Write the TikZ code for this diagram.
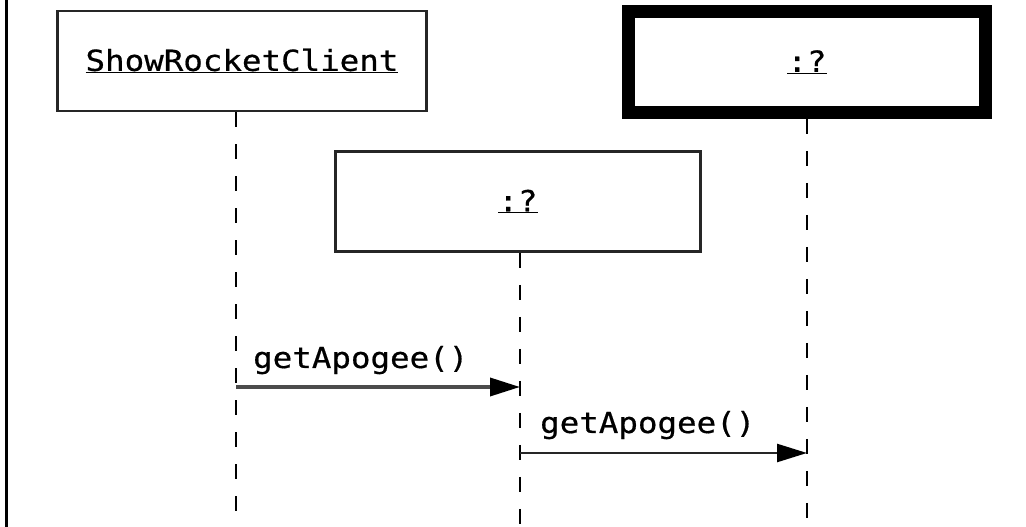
\documentclass[tikz,border=0pt]{standalone}
\usepackage{fontspec}
\usetikzlibrary{arrows.meta}
\newfontfamily\umlfont{DejaVu Sans Mono}[FakeStretch=1.12, FakeBold=0.6]

\begin{document}
\begin{tikzpicture}[x=1pt, y=1pt, >={Triangle[length=30pt,width=18pt,color=black]},
	object/.style={draw=black!85, line width=2.5pt, fill=white, inner sep=0pt,
		minimum width=369pt, minimum height=100pt,
		font=\umlfont\fontsize{29}{34}\selectfont},
	lifeline/.style={draw=black, line width=2pt, dash pattern=on 15pt off 17pt},
	message/.style={->, line width=3.5pt, draw=black!70},
	msglabel/.style={anchor=base west, inner sep=0pt,
		font=\umlfont\fontsize{29}{34}\selectfont}]
	% -------- Tunables --------
	\def\yA{140}   % height of first call
	\def\yB{74}    % height of second call
	
	\useasboundingbox (0,0) rectangle (1026,527);
	
	% frame edge on the left
	\draw[line width=3pt] (6,0) -- (6,527);
	
	% -------- Objects --------
	\node[object] (client) at (242,466) {\underline{ShowRocketClient}};
	\node[object, draw=black, line width=13pt, minimum width=357pt, minimum height=101pt]
		(rocket) at (807,465) {\underline{:?}};
	\node[object, line width=3pt, minimum width=365pt] (proxy) at (518,325.5) {\underline{:?}};
	
	% -------- Lifelines --------
	\coordinate (clientEnd) at (236,0);
	\coordinate (proxyEnd) at (520,0);
	\coordinate (rocketEnd) at (807,0);
	\draw[lifeline] (client.south -| clientEnd) -- (clientEnd);
	\draw[lifeline] (proxy.south -| proxyEnd) -- (proxyEnd);
	\draw[lifeline] (rocket.south -| rocketEnd) -- (rocketEnd);
	
	% -------- Messages --------
	\coordinate (callA) at (clientEnd |- 0,\yA);
	\coordinate (backA) at (proxyEnd |- 0,\yA);
	\coordinate (callB) at (proxyEnd |- 0,\yB);
	\coordinate (backB) at (rocketEnd |- 0,\yB);
	
	\draw[message] (callA) -- (backA);
	\node[msglabel] (labelA) at ([shift={(17,19)}]callA) {getApogee()};
	
	\draw[message, line width=2.5pt, draw=black!85] (callB) -- (backB);
	\node[msglabel] (labelB) at ([shift={(20,20)}]callB) {getApogee()};
	
\end{tikzpicture}
\end{document}
